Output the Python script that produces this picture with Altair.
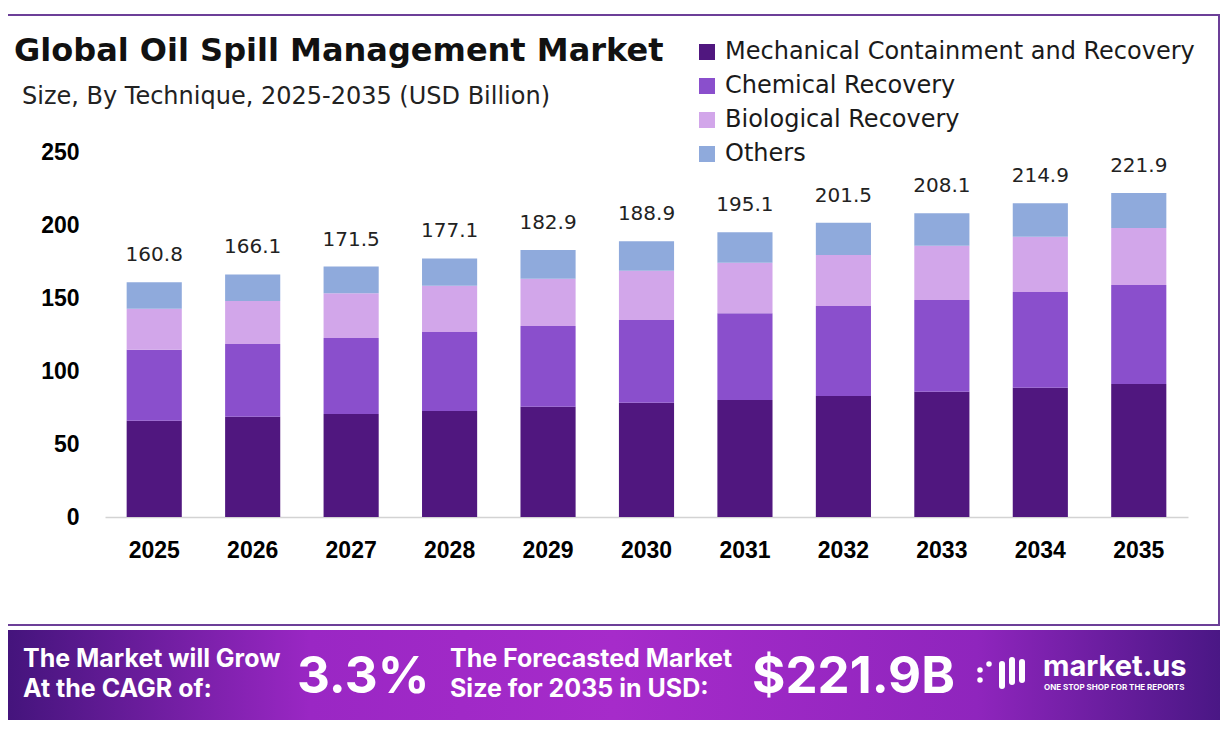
import pandas as pd
import altair as alt

# values (USD Billion)
years = ["2025", "2026", "2027", "2028", "2029", "2030", "2031", "2032", "2033", "2034", "2035"]
mechanical = [66.0, 68.7, 70.5, 72.6, 75.5, 78.3, 80.1, 82.9, 85.8, 88.6, 91.1]
chemical = [48.5, 49.8, 52.1, 54.1, 55.3, 56.6, 59.4, 61.6, 62.8, 65.5, 67.8]
biological = [28.2, 29.4, 30.6, 31.7, 32.4, 33.8, 34.7, 35.0, 37.2, 37.9, 39.0]
others = [18.1, 18.2, 18.3, 18.7, 19.7, 20.2, 20.9, 22.0, 22.3, 22.9, 24.0]
totals = [160.8, 166.1, 171.5, 177.1, 182.9, 188.9, 195.1, 201.5, 208.1, 214.9, 221.9]

segments = ["Mechanical Containment and Recovery", "Chemical Recovery", "Biological Recovery", "Others"]
colors = ["#50177f", "#8a4fcc", "#d2a6ea", "#8faadc"]

# long table for the stacked bars
rows = []
for rank, (name, vals) in enumerate(zip(segments, [mechanical, chemical, biological, others])):
    for yr, v in zip(years, vals):
        rows.append({"year": yr, "segment": name, "value": v, "rank": rank})
df = pd.DataFrame(rows)
df_tot = pd.DataFrame({"year": years, "total": totals})
one = pd.DataFrame({"k": [0]})

PLOT_W, PLOT_H = 1083, 365

x_enc = alt.X("year:O", title=None,
              scale=alt.Scale(paddingInner=0.44, paddingOuter=0.22),
              axis=alt.Axis(labelAngle=0, labelFont="Liberation Sans", labelFontWeight="bold",
                            labelFontSize=23, labelColor="#000000", labelPadding=22,
                            ticks=False, tickSize=0, domainColor="#d3d3d3", domainWidth=1.5))
y_enc = alt.Y("value:Q", title=None, stack="zero",
              scale=alt.Scale(domain=[0, 250], nice=False),
              axis=alt.Axis(values=[0, 50, 100, 150, 200, 250], labelFont="Liberation Sans",
                            labelFontWeight="bold", labelFontSize=23, labelColor="#000000",
                            labelPadding=26, ticks=False, tickSize=0, domain=False, grid=False))

bars = alt.Chart(df).mark_bar().encode(
    x=x_enc,
    y=y_enc,
    color=alt.Color("segment:N", sort=segments,
                    scale=alt.Scale(domain=segments, range=colors),
                    legend=alt.Legend(orient="none", legendX=590, legendY=-112, title=None,
                                      symbolType="square", symbolSize=256, symbolStrokeWidth=0,
                                      labelFont="DejaVu Sans", labelFontSize=24, labelColor="#1a1a1a",
                                      labelOffset=6, rowPadding=10, labelLimit=700)),
    order=alt.Order("rank:Q", sort="ascending"),
)

labels = alt.Chart(df_tot).mark_text(font="DejaVu Sans", fontSize=20, color="#222222",
                                     baseline="alphabetic", dy=-21).encode(
    x=alt.X("year:O"),
    y=alt.Y("total:Q"),
    text=alt.Text("total:Q", format=".1f"),
)

# frame around the chart area
frame = alt.Chart(one).mark_rect(fillOpacity=0, stroke="#6c3f98", strokeWidth=2).encode(
    x=alt.value(-98), x2=alt.value(1114), y=alt.value(-137), y2=alt.value(473))

# bottom banner
banner = alt.Chart(one).mark_rect(
    color=alt.LinearGradient(
        gradient="linear", x1=0, x2=1, y1=0, y2=0,
        stops=[alt.GradientStop(color="#44147c", offset=0),
               alt.GradientStop(color="#9a27c4", offset=0.25),
               alt.GradientStop(color="#a62bca", offset=0.5),
               alt.GradientStop(color="#8f25bd", offset=0.8),
               alt.GradientStop(color="#4a1785", offset=1)])
).encode(x=alt.value(-98), x2=alt.value(1115), y=alt.value(478), y2=alt.value(568))


def txt(s, x, y, size, weight="normal", color="#111111", font="Inter", baseline="middle", align="left"):
    return alt.Chart(one).mark_text(text=s, font=font, fontSize=size, fontWeight=weight, color=color,
                                    align=align, baseline=baseline).encode(x=alt.value(x), y=alt.value(y))


title = txt("Global Oil Spill Management Market", -91, -101, 32, weight="bold", color="#111111",
            font="DejaVu Sans")
subtitle = txt("Size, By Technique, 2025-2035 (USD Billion)", -83, -55, 24, color="#222222",
               font="DejaVu Sans")

b1 = txt("The Market will Grow", -82, 515, 25, weight="bold", color="white", baseline="alphabetic")
b2 = txt("At the CAGR of:", -82, 545, 25, weight="bold", color="white", baseline="alphabetic")
b3 = txt("3.3%", 192, 541, 51, weight="bold", color="white", baseline="alphabetic")
b4 = txt("The Forecasted Market", 345, 515, 25, weight="bold", color="white", baseline="alphabetic")
b5 = txt("Size for 2035 in USD:", 345, 545, 25, weight="bold", color="white", baseline="alphabetic")
b6 = txt("$221.9B", 647, 541, 51, weight="bold", color="white", baseline="alphabetic")
b7 = txt("market.us", 938, 524, 29, weight="bold", color="white", baseline="alphabetic")
b8 = txt("ONE STOP SHOP FOR THE REPORTS", 939, 538, 8, weight="bold", color="white", baseline="alphabetic")


# simple logo glyph
def logo_rule(x, y1, y2):
    return alt.Chart(one).mark_rule(color="white", strokeWidth=6, strokeCap="round").encode(
        x=alt.value(x), y=alt.value(y1), y2=alt.value(y2))


def logo_dot(x, y):
    return alt.Chart(one).mark_point(filled=True, color="white", size=30, opacity=1).encode(
        x=alt.value(x), y=alt.value(y))


logo = [logo_rule(897, 512, 534), logo_rule(907, 508, 530), logo_rule(917, 510, 528),
        logo_dot(875, 518), logo_dot(875, 528), logo_dot(884, 512)]

chart = alt.layer(
    frame, bars, labels, title, subtitle,
    banner, b1, b2, b3, b4, b5, b6, b7, b8, *logo,
).properties(
    width=PLOT_W, height=PLOT_H,
    autosize=alt.AutoSizeParams(type="none"),
    padding={"left": 97, "top": 144, "right": 32, "bottom": 205},
    background="white",
).configure_view(stroke=None)

chart.save("out.html", embed_options={"renderer": "svg", "actions": False})
